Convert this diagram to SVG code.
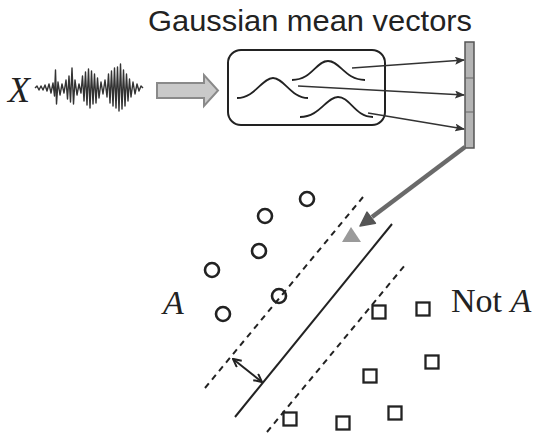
<svg xmlns="http://www.w3.org/2000/svg" width="538" height="444" viewBox="0 0 538 444">
<style>
.ln{stroke:#222;fill:none;stroke-width:2}
.gs{stroke:#222;fill:none;stroke-width:1.8}
.ar{stroke:#333;fill:none;stroke-width:1.6}
.dash{stroke:#222;fill:none;stroke-width:2;stroke-dasharray:6 5}
.circ{stroke:#222;fill:none;stroke-width:2.6}
.sq{stroke:#222;fill:none;stroke-width:2.3}
.serif{font-family:"Liberation Serif","Times New Roman",serif;fill:#222}
.sans{font-family:"Liberation Sans",Arial,sans-serif;fill:#222}
</style>
<defs>
<marker id="ah" markerWidth="10" markerHeight="8" refX="9" refY="4" orient="auto" markerUnits="userSpaceOnUse">
<path d="M0,0 L10,4 L0,8 L2,4 Z" fill="#333"/>
</marker>
<marker id="va" markerWidth="10" markerHeight="10" refX="9" refY="5" orient="auto-start-reverse" markerUnits="userSpaceOnUse">
<path d="M1,1 L9,5 L1,9" fill="none" stroke="#222" stroke-width="2"/>
</marker>
</defs>
<rect width="538" height="444" fill="#fff"/>

<g id="title">
<text class="sans" x="148" y="31" font-size="29" textLength="324" lengthAdjust="spacingAndGlyphs">Gaussian mean vectors</text>
</g>

<g id="signal">
<text class="serif" x="8" y="102" font-size="36" font-style="italic">X</text>
<polyline fill="none" stroke="#333" stroke-width="1.4" stroke-linejoin="round" points="35,88 37,86 39,90 41,86 43,90 45,85 47,91 49,84 51,93 53,83 54.5,96 55.5,70 56.5,104 58,82 60,95 62,84 64,93 66,80 67.5,99 69,76 70.5,102 72,68 73.5,104 75,80 77,95 79,84 81,93 82.5,76 84,101 85.5,72 87,105 88.5,69 90,108 91.5,71 93,104 94.5,74 96,103 97.5,78 99,98 101,82 103,94 105,80 107,97 108.5,74 110,103 111.5,71 113,106 114.5,68 116,108 117.5,67 119,111 120.5,64 122,109 123.5,70 125,106 126.5,74 128,101 129.5,79 131,97 133,82 135,94 137,84 139,91 141,86 143,88"/>
</g>

<g id="big-arrow">
<polygon points="157,83 204,83 204,75 218,90.5 204,106 204,98 157,98" fill="#c9c9c9" stroke="#8a8a8a" stroke-width="2"/>
</g>

<g id="gmm-box">
<rect x="228" y="50" width="157" height="75" rx="13" ry="13" class="ln"/>
<path class="gs" d="M237,98 C255,98 262,78 273,78 C284,78 291,98 308,98"/>
<path class="gs" d="M292,80 C312,80 316,61 328,61 C340,61 345,80 365,80"/>
<path class="gs" d="M300,117 C320,117 326,97 338,97 C350,97 355,117 373,117"/>
</g>

<g id="mean-vector">
<rect x="465" y="42" width="9" height="106" fill="#b4b4b4" stroke="#555" stroke-width="1.5"/>
<line x1="465" y1="78" x2="474" y2="78" stroke="#666" stroke-width="1"/>
<line x1="465" y1="112" x2="474" y2="112" stroke="#666" stroke-width="1"/>
</g>

<g id="connectors">
<line class="ar" x1="352" y1="68" x2="464" y2="60" marker-end="url(#ah)"/>
<line class="ar" x1="298" y1="86" x2="464" y2="95" marker-end="url(#ah)"/>
<line class="ar" x1="368" y1="113" x2="464" y2="129" marker-end="url(#ah)"/>
<line x1="465" y1="147" x2="372" y2="217" stroke="#6a6a6a" stroke-width="4.5"/>
<polygon points="360,226 375.4,223.3 367,212.1" fill="#555" stroke="#555" stroke-width="1.5" stroke-linejoin="round"/>
<line x1="233" y1="359" x2="262" y2="382" stroke="#222" stroke-width="2" marker-start="url(#va)" marker-end="url(#va)"/>
</g>

<g id="boundary">
<line class="ln" x1="235" y1="417" x2="392" y2="224"/>
<line class="dash" x1="205" y1="388" x2="363" y2="197"/>
<line class="dash" x1="267" y1="432" x2="405" y2="265"/>
</g>

<g id="test-point">
<polygon points="351,227 342,242 361,242" fill="#9a9a9a"/>
</g>

<g id="class-A">
<circle class="circ" cx="307" cy="199" r="7"/>
<circle class="circ" cx="265" cy="216" r="7"/>
<circle class="circ" cx="259" cy="251" r="7"/>
<circle class="circ" cx="212" cy="270" r="7"/>
<circle class="circ" cx="279" cy="296" r="7" stroke="#555"/>
<circle class="circ" cx="223" cy="314" r="7"/>
<text class="serif" x="163" y="314" font-size="34" font-style="italic">A</text>
</g>

<g id="class-notA">
<rect class="sq" x="372.5" y="305.5" width="13" height="13"/>
<rect class="sq" x="416.5" y="302.5" width="13" height="13"/>
<rect class="sq" x="425.5" y="355.5" width="13" height="13"/>
<rect class="sq" x="363.5" y="369.5" width="13" height="13"/>
<rect class="sq" x="283.5" y="412.5" width="13" height="13"/>
<rect class="sq" x="336.5" y="416.5" width="13" height="13"/>
<rect class="sq" x="388.5" y="406.5" width="13" height="13"/>
<text class="serif" x="451" y="312" font-size="34">Not <tspan font-style="italic">A</tspan></text>
</g>
</svg>
